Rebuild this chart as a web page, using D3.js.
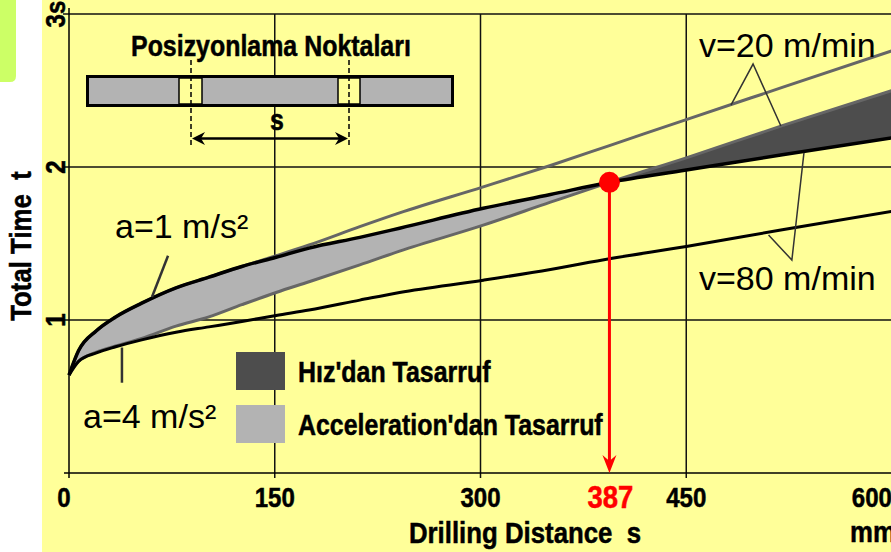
<!DOCTYPE html>
<html>
<head>
<meta charset="utf-8">
<script src="https://cdn.jsdelivr.net/npm/d3@7"></script>
<style>
  body { margin: 0; background: #fff; }
  .bold { font-family: "Liberation Sans", Arial, sans-serif; font-weight: bold; stroke: currentColor; stroke-width: 0.5; }
  .reg { font-family: "Liberation Sans", Arial, sans-serif; }
</style>
</head>
<body>
<svg id="chart"></svg>
<script>
// drilling distance s (mm) where the curves are read
const distance = [0, 7, 20, 34, 53, 78, 102, 126, 151, 175, 212, 241, 302, 351, 394, 450, 520, 600];
// total time t (s) for each case
const a1v80 = [0.64, 0.80, 0.93, 1.02, 1.11, 1.21, 1.28, 1.35, 1.41, 1.47, 1.54, 1.60, 1.73, 1.82, 1.90, 1.98, 2.08, 2.19];
const a1v20 = [0.64, 0.80, 0.93, 1.02, 1.11, 1.21, 1.28, 1.35, 1.42, 1.49, 1.61, 1.70, 1.87, 2.01, 2.14, 2.31, 2.52, 2.76];
const a4v20 = [0.64, 0.73, 0.79, 0.83, 0.88, 0.96, 1.02, 1.10, 1.18, 1.25, 1.36, 1.45, 1.62, 1.77, 1.90, 2.06, 2.27, 2.50];
const a4v80 = [0.64, 0.73, 0.785, 0.825, 0.87, 0.92, 0.955, 0.99, 1.03, 1.065, 1.13, 1.18, 1.26, 1.33, 1.40, 1.48, 1.59, 1.71];

const xTicks = [0, 150, 300, 450, 600];
const xTickLabels = ["0", "150", "300", "450", "600"];
const yTicks = [1, 2, 3];
const yTickLabels = ["1", "2", "3s"];
const crossIndex = 14;          // where the a=1 and a=4/v=20 curves meet
const crossLabel = "387";

const W = 891, H = 552;
const svg = d3.select("#chart").attr("width", W).attr("height", H);

const x = d3.scaleLinear().domain([0, 600]).range([69, 892]);
const y = d3.scaleLinear().domain([0, 3]).range([473, 14]);

// narrow bold text (condensed by horizontal scaling)
function narrow(sel, px, py, str, size, anchor, rot) {
  return sel.append("text").attr("class", "bold")
    .attr("transform", `translate(${px},${py})${rot ? " rotate(-90)" : ""} scale(0.86,1)`)
    .attr("font-size", size).attr("text-anchor", anchor || "start")
    .attr("xml:space", "preserve").text(str);
}

// background
svg.append("rect").attr("x", 42).attr("y", 0).attr("width", W - 42).attr("height", H).attr("fill", "#ffff99");
svg.append("path").attr("d", "M0,0 H16 V76 Q16,82 10,82 H0 Z").attr("fill", "#ccff66");

// grid
svg.selectAll(".hgrid").data(yTicks).enter().append("line")
  .attr("x1", 63).attr("x2", W).attr("y1", d => y(d)).attr("y2", d => y(d))
  .attr("stroke", "#111").attr("stroke-width", 1.5);
svg.selectAll(".vgrid").data(xTicks.slice(1, 4)).enter().append("line")
  .attr("x1", d => x(d)).attr("x2", d => x(d)).attr("y1", y(3)).attr("y2", 478)
  .attr("stroke", "#111").attr("stroke-width", 1.5);

// axes
svg.append("line").attr("x1", 64).attr("x2", W).attr("y1", y(0)).attr("y2", y(0))
  .attr("stroke", "#000").attr("stroke-width", 1.5);
svg.append("line").attr("x1", x(0)).attr("x2", x(0)).attr("y1", 8).attr("y2", 478)
  .attr("stroke", "#000").attr("stroke-width", 1.5);

// inset: positioning points
const inset = svg.append("g");
narrow(inset, 131, 56, "Posizyonlama Noktaları", 29);
inset.append("rect").attr("x", 87.5).attr("y", 76.5).attr("width", 365).attr("height", 29)
  .attr("fill", "#b3b3b3").attr("stroke", "#000").attr("stroke-width", 3);
[[179, 202], [338, 360]].forEach(([a, b]) => {
  inset.append("rect").attr("x", a).attr("y", 78).attr("width", b - a).attr("height", 26)
    .attr("fill", "#ffff99").attr("stroke", "#000").attr("stroke-width", 1.5);
});
[191, 349].forEach(px => {
  inset.append("line").attr("x1", px).attr("x2", px).attr("y1", 60).attr("y2", 147)
    .attr("stroke", "#000").attr("stroke-width", 1.5).attr("stroke-dasharray", "5,3");
});
inset.append("line").attr("x1", 195).attr("x2", 345).attr("y1", 138.5).attr("y2", 138.5)
  .attr("stroke", "#000").attr("stroke-width", 2.5);
inset.append("path").attr("d", "M192,138.5 L205,132 L201,138.5 L205,145 Z");
inset.append("path").attr("d", "M348,138.5 L335,132 L339,138.5 L335,145 Z");
narrow(inset, 277, 130, "s", 29, "middle");

// savings areas
const idx = distance.map((d, i) => i);
const area = d3.area()
  .x(i => x(distance[i]))
  .y0(i => y(a1v80[i]))
  .y1(i => y(a4v20[i]))
  .curve(d3.curveMonotoneX);
svg.append("path").datum(idx.filter(i => i <= crossIndex)).attr("d", area).attr("fill", "#b3b3b3");
svg.append("path").datum(idx.filter(i => i >= crossIndex)).attr("d", area).attr("fill", "#4d4d4d");

// curves
const line = vals => d3.line()
  .x((d, i) => x(distance[i]))
  .y(d => y(d))
  .curve(d3.curveMonotoneX)(vals);
const series = [
  { vals: a1v20, color: "#666", w: 3 },
  { vals: a4v20, color: "#666", w: 3 },
  { vals: a4v80, color: "#000", w: 3 },
  { vals: a1v80, color: "#000", w: 3.5 }
];
series.forEach(s => {
  svg.append("path").attr("d", line(s.vals)).attr("fill", "none")
    .attr("stroke", s.color).attr("stroke-width", s.w);
});

// leader lines and labels
const leaders = [
  [[60.5, 1.15], [72.2, 1.42]],
  [[38.6, 0.82], [38.6, 0.59]],
  [[482.6, 2.405], [498.7, 2.673], [519, 2.268]],
  [[510, 1.556], [527, 1.392], [535.8, 2.092]]
];
leaders.forEach((pts, k) => {
  svg.append("path").attr("d", d3.line().x(p => x(p[0])).y(p => y(p[1]))(pts))
    .attr("fill", "none").attr("stroke", "#333").attr("stroke-width", k < 2 ? 2.5 : 1.5);
});
const notes = [
  { text: "a=1 m/s²", px: 115, py: 238 },
  { text: "a=4 m/s²", px: 83, py: 428 },
  { text: "v=20 m/min", px: 699, py: 57 },
  { text: "v=80 m/min", px: 699, py: 290 }
];
notes.forEach(n => {
  svg.append("text").attr("class", "reg").attr("x", n.px).attr("y", n.py)
    .attr("font-size", 34).text(n.text);
});

// legend
const legend = [
  { label: "Hız'dan Tasarruf", color: "#4d4d4d", py: 352 },
  { label: "Acceleration'dan Tasarruf", color: "#b3b3b3", py: 405 }
];
legend.forEach(l => {
  svg.append("rect").attr("x", 236).attr("y", l.py).attr("width", 49).attr("height", 38).attr("fill", l.color);
  narrow(svg, 298, l.py + 30, l.label, 29);
});

// crossing marker
const cx = x(distance[crossIndex]), cy = y(a1v80[crossIndex]);
svg.append("line").attr("x1", cx).attr("x2", cx).attr("y1", cy).attr("y2", 462)
  .attr("stroke", "#ff0000").attr("stroke-width", 3);
svg.append("path").attr("d", `M${cx},${y(0)} L${cx - 7},${455} L${cx},${461} L${cx + 7},${455} Z`)
  .attr("fill", "#ff0000");
svg.append("circle").attr("cx", cx).attr("cy", cy).attr("r", 10.5).attr("fill", "#ff0000");

// x tick labels
xTicks.forEach((d, i) => {
  const last = i === xTicks.length - 1;
  narrow(svg, i === 0 ? x(d) - 5 : x(d), 507, xTickLabels[i], 28, last ? "end" : "middle");
});
narrow(svg, cx + 1, 508, crossLabel, 32, "middle").style("color", "#ff0000").style("fill", "#ff0000");

// y tick labels
yTicks.forEach((d, i) => narrow(svg, 65, y(d), yTickLabels[i], 28, "middle", true));

// axis titles
narrow(svg, 525, 543, "Drilling Distance  s", 30, "middle");
narrow(svg, 850, 542, "mm", 30);
narrow(svg, 31, 246, "Total Time  t", 30, "middle", true);
</script>
</body>
</html>
